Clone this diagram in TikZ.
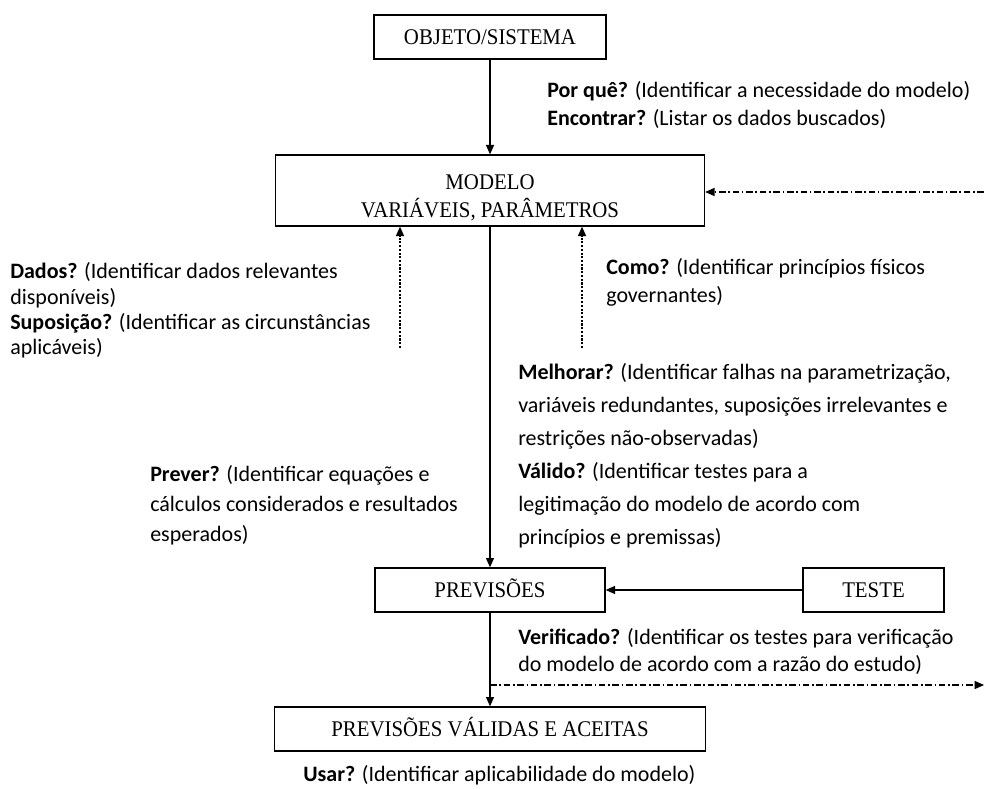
\documentclass[tikz,border=0pt]{standalone}
\usepackage{fontspec}
\setmainfont{Carlito}
\newfontfamily\boxfont[FakeStretch=0.93]{Liberation Serif}
\usetikzlibrary{arrows.meta}
\tikzset{
  box/.style={draw, line width=1pt, inner sep=0pt, font=\boxfont\fontsize{16.8pt}{21pt}\selectfont, align=center},
  box1/.style={box, text height=11.5pt, text depth=0pt},
  txt/.style={anchor=base west, inner sep=0pt, font=\fontsize{16.5pt}{20pt}\selectfont},
  conn/.style={line width=0.9pt},
  arr/.style={conn, -{Triangle[length=7pt,width=6pt]}},
  dotarr/.style={conn, dash pattern=on 1.6pt off 1.2pt, -{Triangle[length=7pt,width=6pt]}},
  dasharr/.style={conn, dash pattern=on 5pt off 2pt on 1.2pt off 2pt, -{Triangle[length=7pt,width=6pt]}}
}
\begin{document}
\begin{tikzpicture}[x=0.75pt,y=-0.75pt]
\useasboundingbox (0,0) rectangle (984,788);
% boxes
\node[box1, line width=1.6pt, minimum width=174pt, minimum height=33pt] (obj) at (490,37) {OBJETO/SISTEMA};
\node[box, text height=40pt, text depth=0pt, minimum width=321.75pt, minimum height=53.25pt] (modelo) at (490,190.5) {MODELO\\VARIÁVEIS, PARÂMETROS};
\node[box1, minimum width=172.5pt, minimum height=33pt] (prev) at (490,590) {PREVISÕES};
\node[box1, minimum width=105.75pt, minimum height=33pt] (teste) at (873.5,590) {TESTE};
\node[box1, minimum width=323.25pt, minimum height=33pt] (valid) at (490,729) {PREVISÕES VÁLIDAS E ACEITAS};
% connectors
\draw[arr] (obj.south) -- (modelo.north);
\draw[arr] (modelo.south) -- (prev.north);
\draw[arr] (prev.south) -- (valid.north);
\draw[arr] (teste.west) -- (prev.east);
\coordinate (d1) at (400,348);
\coordinate (d2) at (582,348);
\draw[dotarr] (d1) -- (d1 |- modelo.south);
\draw[dotarr] (d2) -- (d2 |- modelo.south);
\coordinate (r1) at (984,192);
\draw[dasharr] (r1) -- (r1 -| modelo.east);
\coordinate (r2) at (984,685);
\draw[dasharr] (prev.south |- r2) -- (r2);
% texts
\node[txt] (t1) at (547,98) {\textbf{Por quê?} (Identificar a necessidade do modelo)};
\node[txt] (t2) at (547,126) {\textbf{Encontrar?} (Listar os dados buscados)};
\node[txt] (t3) at (10,278) {\textbf{Dados?} (Identificar dados relevantes};
\node[txt] (t4) at (10,304) {disponíveis)};
\node[txt] (t5) at (10,329) {\textbf{Suposição?} (Identificar as circunstâncias};
\node[txt] (t6) at (10,354) {aplicáveis)};
\node[txt] (t7) at (606,274) {\textbf{Como?} (Identificar princípios físicos};
\node[txt] (t8) at (606,302) {governantes)};
\node[txt] (t9) at (518,379) {\textbf{Melhorar?} (Identificar falhas na parametrização,};
\node[txt] (t10) at (518,412) {variáveis redundantes, suposições irrelevantes e};
\node[txt] (t11) at (518,445) {restrições não-observadas)};
\node[txt] (t12) at (518,478) {\textbf{Válido?} (Identificar testes para a};
\node[txt] (t13) at (518,511) {legitimação do modelo de acordo com};
\node[txt] (t14) at (518,544) {princípios e premissas)};
\node[txt] (t15) at (150,481) {\textbf{Prever?} (Identificar equações e};
\node[txt] (t16) at (150,511) {cálculos considerados e resultados};
\node[txt] (t17) at (150,541) {esperados)};
\node[txt] (t18) at (518,644) {\textbf{Verificado?} (Identificar os testes para verificação};
\node[txt] (t19) at (518,671) {do modelo de acordo com a razão do estudo)};
\node[txt] (t20) at (303,781) {\textbf{Usar?} (Identificar aplicabilidade do modelo)};
\end{tikzpicture}
\end{document}
